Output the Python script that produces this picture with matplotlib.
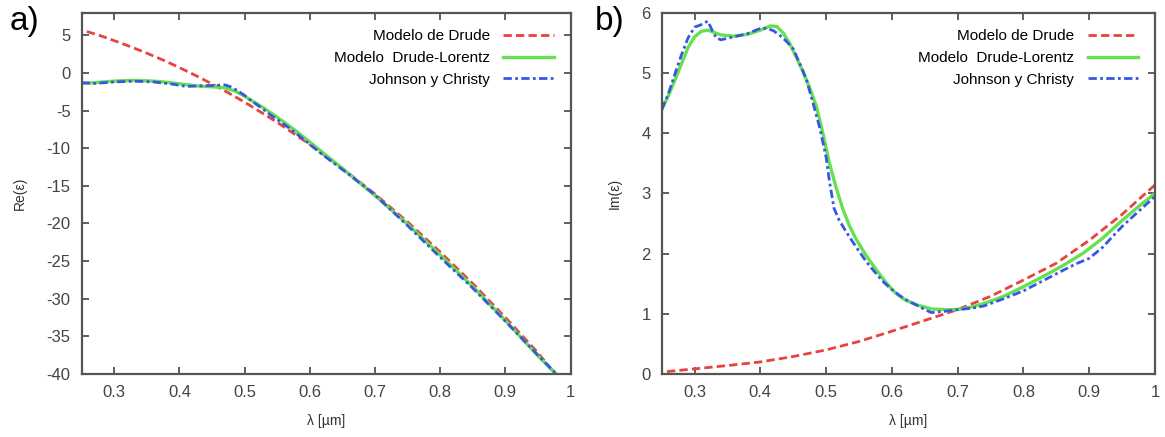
import matplotlib
matplotlib.use("Agg")
import matplotlib.pyplot as plt

plt.rcParams['font.family'] = ['Liberation Sans', 'DejaVu Sans']
plt.rcParams['axes.unicode_minus'] = False

# panel a) real part
lam_drude_re = [0.258, 0.28, 0.30, 0.325, 0.35, 0.375, 0.40, 0.425, 0.45, 0.475,
                0.50, 0.55, 0.60, 0.65, 0.70, 0.75, 0.80, 0.85, 0.90, 0.95, 0.975]
re_drude = [5.5, 4.9, 4.28, 3.48, 2.62, 1.7, 0.70, -0.35, -1.47, -2.65,
            -3.89, -6.57, -9.51, -12.7, -16.1, -19.8, -23.8, -28.0, -32.5, -37.2, -39.9]

lam_dl_re = [0.25, 0.27, 0.29, 0.31, 0.33, 0.35, 0.37, 0.39, 0.41, 0.43,
             0.45, 0.46, 0.47, 0.485, 0.50, 0.515, 0.53, 0.545, 0.56, 0.58,
             0.60, 0.65, 0.70, 0.75, 0.80, 0.85, 0.90, 0.95, 0.978]
re_dl = [-1.4, -1.3, -1.15, -1.05, -1.0, -1.05, -1.15, -1.35, -1.55, -1.75,
         -1.85, -1.9, -2.0, -2.4, -3.1, -3.9, -4.7, -5.6, -6.5, -7.8,
         -9.2, -12.7, -16.3, -20.1, -24.2, -28.4, -32.9, -37.6, -40.0]

lam_jc_re = [0.25, 0.27, 0.30, 0.33, 0.36, 0.39, 0.41, 0.44, 0.47, 0.48,
             0.49, 0.50, 0.51, 0.525, 0.54, 0.56, 0.58, 0.60, 0.62, 0.66,
             0.70, 0.75, 0.80, 0.85, 0.90, 0.95, 0.978]
re_jc = [-1.3, -1.4, -1.2, -1.1, -1.2, -1.5, -1.8, -1.7, -1.6, -1.9,
         -2.4, -3.0, -3.7, -4.6, -5.6, -6.8, -8.1, -9.5, -10.9, -13.5,
         -16.2, -20.3, -24.5, -28.6, -33.0, -37.5, -40.0]

# panel b) imaginary part
lam_drude_im = [0.258, 0.30, 0.35, 0.40, 0.45, 0.50, 0.55, 0.60, 0.65, 0.70,
                0.75, 0.80, 0.85, 0.90, 0.95, 1.0]
im_drude = [0.04, 0.085, 0.14, 0.20, 0.29, 0.40, 0.54, 0.71, 0.89, 1.07,
            1.29, 1.56, 1.84, 2.22, 2.65, 3.14]

lam_dl_im = [0.25, 0.26, 0.27, 0.28, 0.29, 0.30, 0.31, 0.32, 0.33, 0.34,
             0.36, 0.38, 0.40, 0.415, 0.425, 0.435, 0.445, 0.455, 0.465, 0.475,
             0.485, 0.495, 0.505, 0.515, 0.525, 0.535, 0.545, 0.56, 0.575, 0.59,
             0.605, 0.62, 0.64, 0.66, 0.68, 0.70, 0.72, 0.74, 0.77, 0.80,
             0.83, 0.86, 0.89, 0.92, 0.95, 0.975, 1.0]
im_dl = [4.39, 4.62, 4.88, 5.15, 5.42, 5.6, 5.69, 5.71, 5.67, 5.63,
         5.61, 5.64, 5.71, 5.78, 5.77, 5.66, 5.48, 5.25, 5.02, 4.75,
         4.45, 4.0, 3.5, 3.1, 2.75, 2.47, 2.25, 1.98, 1.75, 1.53,
         1.35, 1.23, 1.14, 1.08, 1.07, 1.07, 1.11, 1.17, 1.29, 1.45,
         1.62, 1.8, 2.0, 2.25, 2.55, 2.78, 3.0]

lam_jc_im = [0.25, 0.26, 0.27, 0.28, 0.29, 0.30, 0.31, 0.32, 0.327, 0.333,
             0.34, 0.36, 0.38, 0.40, 0.41, 0.42, 0.43, 0.44, 0.45, 0.46,
             0.47, 0.48, 0.49, 0.50, 0.505, 0.512, 0.52, 0.53, 0.54, 0.55,
             0.562, 0.575, 0.587, 0.60, 0.612, 0.625, 0.638, 0.65, 0.66, 0.68,
             0.70, 0.72, 0.74, 0.77, 0.80, 0.83, 0.86, 0.88, 0.90, 0.92,
             0.95, 0.975, 1.0]
im_jc = [4.39, 4.65, 4.98, 5.3, 5.58, 5.76, 5.8, 5.86, 5.7, 5.58,
         5.55, 5.6, 5.65, 5.74, 5.74, 5.70, 5.62, 5.52, 5.4, 5.15,
         4.89, 4.5, 4.1, 3.6, 3.2, 2.75, 2.55, 2.37, 2.2, 2.04,
         1.85, 1.68, 1.53, 1.4, 1.3, 1.21, 1.14, 1.07, 1.02, 1.04,
         1.07, 1.09, 1.13, 1.25, 1.38, 1.55, 1.72, 1.83, 1.92, 2.1,
         2.45, 2.7, 2.95]

labels = ["Modelo de Drude", "Modelo  Drude-Lorentz", "Johnson y Christy"]
xticks = [0.3, 0.4, 0.5, 0.6, 0.7, 0.8, 0.9, 1.0]
xticklabels = ["0.3", "0.4", "0.5", "0.6", "0.7", "0.8", "0.9", "1"]

red = '#e8433f'
green = '#66e050'
blue = '#3656e6'


def draw_panel(ax, x1, y1, x2, y2, x3, y3, ylabel):
    ax.plot(x1, y1, color=red, lw=2, ls=(0, (3.0, 1.5)), label=labels[0])
    ax.plot(x2, y2, color=green, lw=2.4, label=labels[1])
    ax.plot(x3, y3, color=blue, lw=2, ls=(0, (3, 1.2, 1, 1.2)), label=labels[2])
    ax.set_xlim(0.25, 1.0)
    ax.set_xticks(xticks)
    ax.set_xticklabels(xticklabels)
    ax.tick_params(direction='in', top=True, right=True, length=5, width=1.2,
                   labelsize=12, labelcolor='#444444', color='#444444', pad=8)
    for s in ax.spines.values():
        s.set_color('#555555')
        s.set_linewidth(1.6)
    ax.set_xlabel("λ [µm]", fontsize=10, color='#333333', labelpad=10)
    ax.set_ylabel(ylabel, fontsize=10, color='#333333', labelpad=14)
    ax.legend(loc='upper right', frameon=False, markerfirst=False, fontsize=11,
              handlelength=3.3, labelspacing=0.5, borderaxespad=0.7,
              handletextpad=0.9)


fig = plt.figure(figsize=(11.65, 4.37), dpi=100)
ax1 = fig.add_axes([0.0701, 0.1442, 0.4197, 0.8268])
ax2 = fig.add_axes([0.568, 0.1442, 0.4234, 0.8268])

draw_panel(ax1, lam_drude_re, re_drude, lam_dl_re, re_dl, lam_jc_re, re_jc, "Re(ε)")
ax1.set_ylim(-40, 8)
ax1.set_yticks(range(-40, 6, 5))

draw_panel(ax2, lam_drude_im, im_drude, lam_dl_im, im_dl, lam_jc_im, im_jc, "Im(ε)")
ax2.set_ylim(0, 6)
ax2.set_yticks(range(0, 7))

fig.text(0.008, 0.95, "a)", fontsize=24, va='center', ha='left')
fig.text(0.511, 0.95, "b)", fontsize=24, va='center', ha='left')

fig.savefig("out.png", dpi=100)
